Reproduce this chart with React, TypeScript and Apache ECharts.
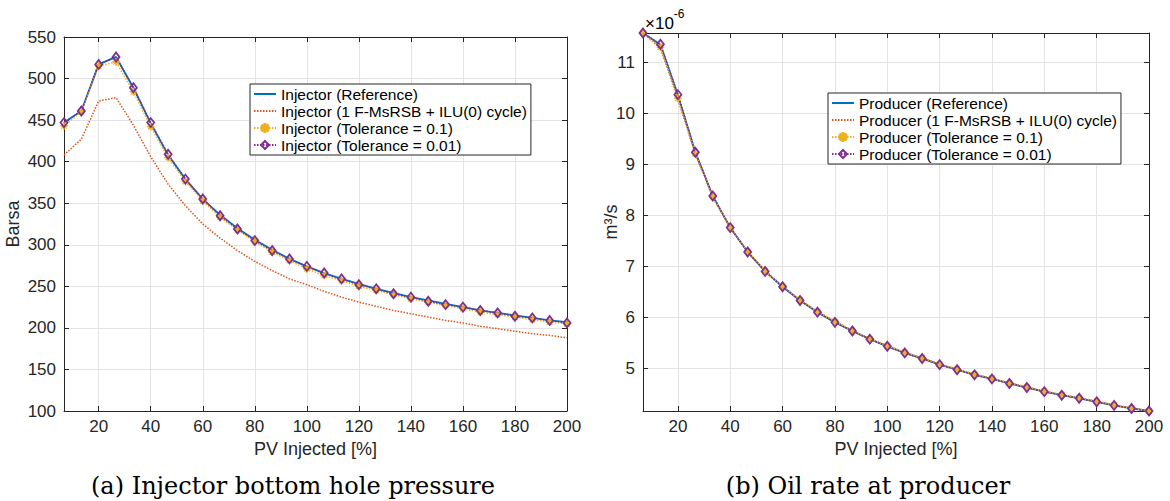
import React, { useEffect, useRef } from "react";
import * as echarts from "echarts";

const pv = [6.67, 13.33, 20, 26.67, 33.33, 40, 46.67, 53.33, 60, 66.67, 73.33, 80, 86.67, 93.33, 100, 106.67, 113.33, 120, 126.67, 133.33, 140, 146.67, 153.33, 160, 166.67, 173.33, 180, 186.67, 193.33, 200];

const injRef = [447, 461, 517, 526, 489, 446, 408, 379, 355, 336, 320, 306, 294, 283, 274, 266, 259, 253, 247, 242, 237, 233, 229, 225, 221, 218, 215, 212, 209, 207];
const injCycle = [408, 427, 473, 477, 444, 406, 373, 347, 325, 308, 293, 280, 269, 259, 252, 244, 237, 231, 226, 221, 217, 213, 209, 206, 202, 199, 196, 193, 191, 188];
const injTol1 = [443, 460, 515, 520, 484, 442, 405, 376, 353, 333, 318, 304, 291, 281, 271, 263, 257, 250, 245, 240, 235, 231, 227, 223, 219, 216, 213, 210, 207, 205];
const injTol01 = [447, 461, 517, 526, 489, 447, 409, 379, 355, 335, 319, 305, 293, 283, 274, 266, 259, 252, 247, 241, 237, 232, 228, 225, 221, 218, 214, 212, 209, 206];

const prodRef = [11.58, 11.35, 10.36, 9.24, 8.38, 7.76, 7.28, 6.9, 6.6, 6.33, 6.1, 5.9, 5.73, 5.57, 5.43, 5.3, 5.19, 5.07, 4.97, 4.87, 4.79, 4.7, 4.62, 4.54, 4.47, 4.41, 4.34, 4.27, 4.21, 4.16];
const prodCycle = [11.58, 11.28, 10.28, 9.2, 8.36, 7.76, 7.29, 6.91, 6.61, 6.34, 6.11, 5.92, 5.74, 5.58, 5.44, 5.31, 5.2, 5.08, 4.98, 4.88, 4.8, 4.71, 4.63, 4.55, 4.48, 4.42, 4.35, 4.28, 4.22, 4.16];
const prodTol1 = [11.58, 11.3, 10.3, 9.21, 8.37, 7.76, 7.29, 6.91, 6.61, 6.34, 6.11, 5.92, 5.74, 5.58, 5.44, 5.31, 5.2, 5.08, 4.98, 4.88, 4.8, 4.71, 4.63, 4.55, 4.48, 4.42, 4.35, 4.28, 4.22, 4.16];
const prodTol01 = [11.58, 11.36, 10.37, 9.24, 8.38, 7.76, 7.28, 6.9, 6.6, 6.33, 6.1, 5.9, 5.73, 5.57, 5.43, 5.3, 5.19, 5.07, 4.97, 4.87, 4.79, 4.7, 4.62, 4.54, 4.47, 4.41, 4.34, 4.27, 4.21, 4.16];

const injNames = ["Injector (Reference)", "Injector (1 F-MsRSB + ILU(0) cycle)", "Injector (Tolerance = 0.1)", "Injector (Tolerance = 0.01)"];
const prodNames = ["Producer (Reference)", "Producer (1 F-MsRSB + ILU(0) cycle)", "Producer (Tolerance = 0.1)", "Producer (Tolerance = 0.01)"];

const xLabel = "PV Injected [%]";
const leftYLabel = "Barsa";
const rightYLabel = "m³/s";
const captions = ["(a) Injector bottom hole pressure", "(b) Oil rate at producer"];

const BLUE = "#0072BD";
const ORANGE = "#D95319";
const YELLOW = "#EDB120";
const PURPLE = "#7E2F8E";
const AX = "#262626";
const FONT = "Liberation Sans";

const ASTERISK = "path://M0,4.5L10,4.5L10,5.5L0,5.5ZM4.5,0L5.5,0L5.5,10L4.5,10ZM1.854,1.146L8.854,8.146L8.146,8.854L1.146,1.854ZM1.146,8.146L8.146,1.146L8.854,1.854L1.854,8.854Z";

function zip(xs: number[], ys: number[]) {
  return xs.map((x, i) => [x, ys[i]]);
}

function makeSeries(names: string[], data: number[][], xi: number, yi: number) {
  return [
    {
      name: names[0], type: "line", xAxisIndex: xi, yAxisIndex: yi,
      data: zip(pv, data[0]), showSymbol: false, symbol: "none",
      lineStyle: { color: BLUE, width: 1.8, type: "solid" }, itemStyle: { color: BLUE },
    },
    {
      name: names[1], type: "line", xAxisIndex: xi, yAxisIndex: yi,
      data: zip(pv, data[1]), showSymbol: false, symbol: "none",
      lineStyle: { color: ORANGE, width: 1.5, type: [1.5, 1.5] }, itemStyle: { color: ORANGE },
    },
    {
      name: names[2], type: "line", xAxisIndex: xi, yAxisIndex: yi,
      data: zip(pv, data[2]), symbol: ASTERISK, symbolSize: 7,
      lineStyle: { color: YELLOW, width: 1.5, type: [1.5, 1.5] },
      itemStyle: { color: YELLOW, borderColor: YELLOW, borderWidth: 0.8 },
    },
    {
      name: names[3], type: "line", xAxisIndex: xi, yAxisIndex: yi,
      data: zip(pv, data[3]), symbol: "diamond", symbolSize: [7, 9],
      lineStyle: { color: PURPLE, width: 1.5, type: [1.5, 1.5] },
      itemStyle: { color: "rgba(255,255,255,0)", borderColor: PURPLE, borderWidth: 1.8 },
    },
  ];
}

function xAxis(gridIndex: number, position: string, main: boolean) {
  return {
    type: "value", gridIndex, position, min: pv[0], max: pv[pv.length - 1], splitNumber: 10,
    name: main ? xLabel : "", nameLocation: "middle", nameGap: 26,
    nameTextStyle: { fontFamily: FONT, fontSize: 18, color: AX },
    axisLine: { show: true, onZero: false, lineStyle: { color: AX, width: 1 } },
    axisTick: { show: true, inside: true, length: 5, lineStyle: { color: AX } },
    axisLabel: { show: main, showMinLabel: false, margin: 7, fontFamily: FONT, fontSize: 17, color: AX },
    splitLine: { show: main, lineStyle: { color: "#e3e3e3", width: 1 } },
  };
}

function yAxis(gridIndex: number, position: string, main: boolean, opts: any) {
  return {
    type: "value", gridIndex, position,
    nameLocation: "middle",
    nameTextStyle: { fontFamily: FONT, fontSize: 18, color: AX },
    axisLine: { show: true, onZero: false, lineStyle: { color: AX, width: 1 } },
    axisTick: { show: true, inside: true, length: 5, lineStyle: { color: AX } },
    axisLabel: { show: main, margin: 8, fontFamily: FONT, fontSize: 17, color: AX },
    splitLine: { show: main, lineStyle: { color: "#e3e3e3", width: 1 } },
    ...opts,
    name: main ? opts.name : "",
  };
}

function legend(names: string[], left: number, top: number) {
  const hidden = { color: "rgba(0,0,0,0)", borderWidth: 0, opacity: 0 };
  return {
    data: [
      { name: names[0], itemStyle: hidden },
      { name: names[1], itemStyle: hidden },
      { name: names[2] },
      { name: names[3] },
    ],
    left, top, orient: "vertical",
    backgroundColor: "#ffffff", borderColor: AX, borderWidth: 1, borderRadius: 0,
    padding: [2, 4, 2, 3], itemGap: 1, itemWidth: 22, itemHeight: 10,
    textStyle: { fontFamily: FONT, fontSize: 15.5, color: "#000", lineHeight: 16 },
    selectedMode: false,
  };
}

export default function App() {
  const ref = useRef<HTMLDivElement>(null);
  useEffect(() => {
    if (!ref.current) return;
    const chart = echarts.init(ref.current, null, { renderer: "svg" });
    const option: any = {
      animation: false,
      backgroundColor: "#ffffff",
      grid: [
        { left: 64, top: 37, width: 503, height: 374, containLabel: false },
        { left: 643, top: 33, width: 506, height: 378, containLabel: false },
      ],
      xAxis: [xAxis(0, "bottom", true), xAxis(0, "top", false), xAxis(1, "bottom", true), xAxis(1, "top", false)],
      yAxis: [
        yAxis(0, "left", true, { min: 100, max: 550, interval: 50, name: leftYLabel, nameGap: 42 }),
        yAxis(0, "right", false, { min: 100, max: 550, interval: 50 }),
        yAxis(1, "left", true, {
          min: 4.16, max: 11.58, splitNumber: 7, name: rightYLabel, nameGap: 23, nameMoveOverlap: false,
          axisLabel: { show: true, margin: 8, fontFamily: FONT, fontSize: 17, color: AX, showMinLabel: false, showMaxLabel: false },
        }),
        yAxis(1, "right", false, { min: 4.16, max: 11.58, splitNumber: 7 }),
      ],
      legend: [legend(injNames, 250, 84), legend(prodNames, 828, 93)],
      series: [
        ...makeSeries(injNames, [injRef, injCycle, injTol1, injTol01], 0, 0),
        ...makeSeries(prodNames, [prodRef, prodCycle, prodTol1, prodTol01], 2, 2),
      ],
      graphic: [
        {
          type: "text", left: 645, top: 8,
          style: {
            text: "{a|×10}{b|-6}",
            rich: {
              a: { fontFamily: FONT, fontSize: 17, color: AX, verticalAlign: "bottom", lineHeight: 24 },
              b: { fontFamily: FONT, fontSize: 12, color: AX, verticalAlign: "top", lineHeight: 24, padding: [0, 0, 8, 0] },
            },
          },
        },
        {
          type: "text", x: 293, y: 486,
          style: { text: captions[0], fontFamily: "DejaVu Serif", fontSize: 24, fill: "#000", align: "center", verticalAlign: "middle" },
        },
        {
          type: "text", x: 868, y: 486,
          style: { text: captions[1], fontFamily: "DejaVu Serif", fontSize: 24, fill: "#000", align: "center", verticalAlign: "middle" },
        },
      ],
    };
    chart.setOption(option);
    return () => chart.dispose();
  }, []);
  return <div ref={ref} style={{ position: "absolute", left: 0, top: 0, width: 1170, height: 501 }} />;
}
